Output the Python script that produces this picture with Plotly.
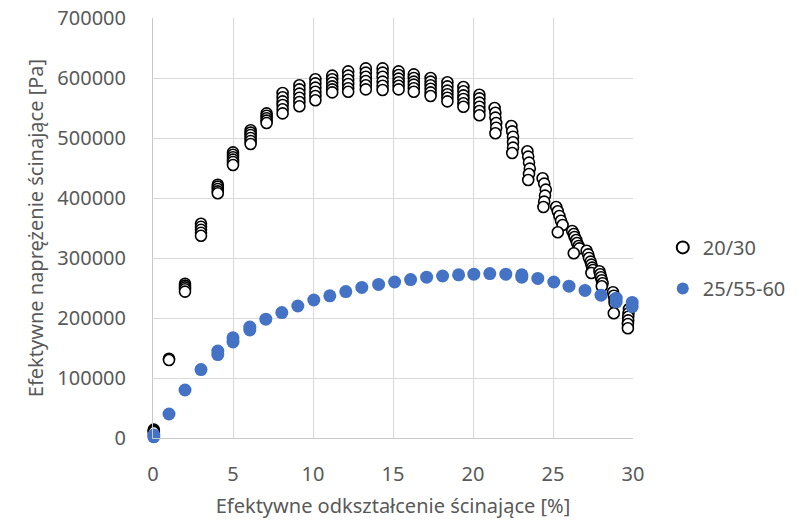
import plotly.graph_objects as go

# ---- data ----
series_names = ["20/30", "25/55-60"]

# 20/30 : strain [%] and stress [Pa], grouped by strain level (stacks of cycles)
strain_2030 = [
    0.05, 0.05, 0.05,
    1.0, 1.0,
    2.0, 2.0, 2.0, 2.0, 2.0,
    3.0, 3.0, 3.0, 3.0, 3.0,
    4.05, 4.05, 4.05, 4.05, 4.05,
    5.0, 5.0, 5.0, 5.0, 5.0, 5.0,
    6.1, 6.1, 6.1, 6.1, 6.1, 6.1,
    7.1, 7.1, 7.1, 7.1, 7.1,
    8.1, 8.1, 8.1, 8.1, 8.1, 8.1,
    9.15, 9.15, 9.15, 9.15, 9.15, 9.15,
    10.15, 10.15, 10.15, 10.15, 10.15, 10.15,
    11.2, 11.2, 11.2, 11.2, 11.2, 11.2,
    12.2, 12.2, 12.2, 12.2, 12.2, 12.2,
    13.3, 13.3, 13.3, 13.3, 13.3, 13.3,
    14.35, 14.35, 14.35, 14.35, 14.35, 14.35,
    15.35, 15.35, 15.35, 15.35, 15.35, 15.35,
    16.3, 16.3, 16.3, 16.3, 16.3, 16.3,
    17.35, 17.35, 17.35, 17.35, 17.35, 17.35,
    18.4, 18.4, 18.4, 18.4, 18.4, 18.4,
    19.4, 19.4, 19.4, 19.4, 19.4, 19.4,
    20.4, 20.4, 20.4, 20.4, 20.4, 20.4,
    21.35, 21.4, 21.4, 21.45, 21.45, 21.4,
    22.4, 22.45, 22.5, 22.5, 22.5, 22.45,
    23.4, 23.45, 23.5, 23.55, 23.5, 23.45,
    24.35, 24.45, 24.55, 24.5, 24.45, 24.4,
    25.2, 25.3, 25.4, 25.5, 25.6, 25.3,
    26.2, 26.3, 26.35, 26.45, 26.5, 26.6, 26.65, 26.3,
    27.1, 27.2, 27.25, 27.35, 27.4, 27.45, 27.5, 27.4,
    27.9, 27.95, 28.0, 28.05, 28.1, 28.05,
    28.75, 28.8, 28.85, 28.85, 28.8,
    29.75, 29.72, 29.7, 29.7, 29.68, 29.68,
]
stress_2030 = [
    14000, 12000, 10000,
    132000, 130000,
    257000, 254000, 251000, 248000, 244000,
    357000, 352000, 347000, 342000, 337000,
    422000, 419000, 415000, 411000, 408000,
    476000, 472000, 468000, 464000, 460000, 455000,
    513000, 509000, 505000, 500000, 495000, 490000,
    541000, 537000, 533000, 529000, 525000,
    575000, 568000, 561000, 555000, 548000, 541000,
    588000, 581000, 574000, 567000, 560000, 553000,
    598000, 591000, 584000, 577000, 570000, 563000,
    604000, 598000, 592000, 586000, 581000, 576000,
    611000, 604000, 597000, 590000, 583000, 577000,
    616000, 609000, 602000, 595000, 588000, 581000,
    616000, 609000, 602000, 594000, 587000, 580000,
    611000, 605000, 599000, 593000, 587000, 581000,
    606000, 600000, 594000, 589000, 583000, 577000,
    600000, 594000, 588000, 582000, 576000, 570000,
    593000, 586000, 579000, 573000, 567000, 561000,
    585000, 578000, 571000, 565000, 558000, 552000,
    572000, 566000, 559000, 552000, 545000, 538000,
    550000, 542000, 534000, 525000, 517000, 508000,
    520000, 511000, 502000, 493000, 484000, 475000,
    478000, 469000, 459000, 449000, 440000, 430000,
    433000, 424000, 414000, 404000, 394000, 385000,
    385000, 378000, 370000, 362000, 355000, 343000,
    345000, 340000, 335000, 330000, 325000, 320000, 316000, 308000,
    312000, 306000, 300000, 294000, 289000, 284000, 280000, 275000,
    278000, 273000, 268000, 263000, 258000, 253000,
    243000, 237000, 231000, 225000, 208000,
    215000, 208000, 202000, 196000, 190000, 183000,
]

# 25/55-60
strain_2555 = [
    0.05, 0.05, 1.0, 2.0, 3.0, 4.05, 4.05, 5.0, 5.0, 6.05, 6.05, 7.05, 8.05, 9.05,
    10.05, 11.05, 12.05, 13.05, 14.1, 15.1, 16.1, 17.1, 18.1, 19.1, 20.05,
    21.05, 22.05, 23.05, 23.05, 24.05, 25.05, 26.0, 27.0, 28.0, 28.95, 28.95,
    29.95, 29.95,
]
stress_2555 = [
    5000, 2000, 40000, 80000, 114000, 145000, 139000, 167000, 160000, 185000, 180000,
    198000, 209000, 220000,
    230000, 237000, 244000, 251000, 256000, 260000, 264000, 268000, 270000, 272000,
    273000,
    274000, 273000, 272000, 268000, 266000, 260000, 253000, 246000, 238000, 233000,
    227000,
    226000, 219000,
]

# ---- figure ----
FONT = "Noto Sans"
GREY = "#595959"

fig = go.Figure()
fig.add_trace(go.Scatter(
    x=strain_2030, y=stress_2030, mode="markers", name=series_names[0],
    legendgroup="a",
    marker=dict(symbol="circle", size=11, color="white",
                line=dict(color="black", width=1.6)),
    cliponaxis=False,
))
fig.add_trace(go.Scatter(
    x=strain_2555, y=stress_2555, mode="markers", name=series_names[1],
    legendgroup="b",
    marker=dict(symbol="circle", size=13, color="#4472C4",
                line=dict(width=0)),
    cliponaxis=False,
))

fig.update_layout(
    width=809, height=522,
    margin=dict(l=153, r=176, t=18, b=84),
    paper_bgcolor="white", plot_bgcolor="white",
    font=dict(family=FONT, size=20, color=GREY),
    showlegend=True,
    legend=dict(x=1.062, y=0.405, xanchor="left", yanchor="middle",
                font=dict(family=FONT, size=20, color=GREY),
                tracegroupgap=12, bgcolor="rgba(0,0,0,0)",
                itemsizing="constant"),
    xaxis=dict(
        range=[0, 30], dtick=5, tick0=0, automargin=False,
        showgrid=True, gridcolor="#d9d9d9", gridwidth=1,
        showline=True, linecolor="#c8c8c8", linewidth=1,
        zeroline=False, ticks="", ticklabelstandoff=18,
        tickfont=dict(family=FONT, size=20, color=GREY),
        title=dict(text="Efektywne odkształcenie ścinające [%]",
                   font=dict(family=FONT, size=20, color=GREY), standoff=12),
    ),
    yaxis=dict(
        range=[0, 700000], dtick=100000, tick0=0, tickformat="d", automargin=False,
        showgrid=True, gridcolor="#d9d9d9", gridwidth=1,
        showline=True, linecolor="#c8c8c8", linewidth=1,
        zeroline=False, ticks="", ticklabelstandoff=22,
        tickfont=dict(family=FONT, size=20, color=GREY),
        title=dict(text="Efektywne naprężenie ścinające [Pa]",
                   font=dict(family=FONT, size=20, color=GREY), standoff=8),
    ),
)

fig.write_html("out.html")
